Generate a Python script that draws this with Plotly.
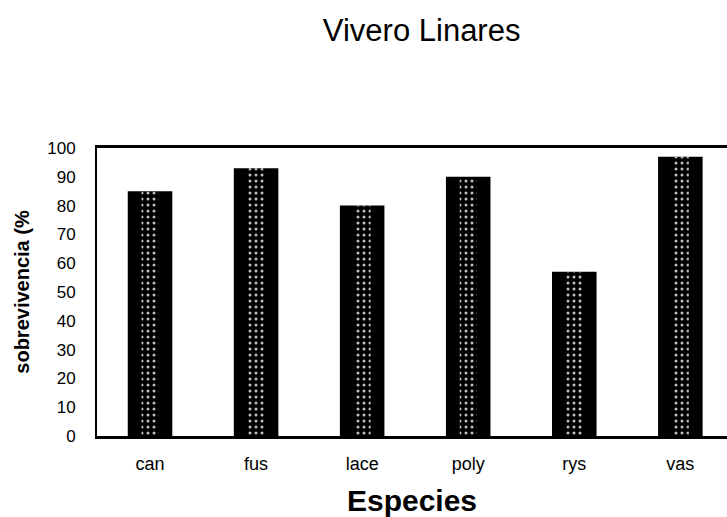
import plotly.graph_objects as go

categories = ["can", "fus", "lace", "poly", "rys", "vas"]
survival = [85, 93, 80, 90, 57, 97]
y_ticks = list(range(0, 101, 10))

FONT = "Liberation Sans, Arial, sans-serif"

fig = go.Figure()
fig.add_trace(go.Bar(
    x=categories, y=survival, width=0.42,
    marker=dict(color="black", line=dict(width=0)),
    hoverinfo="skip", showlegend=False,
))
fig.add_trace(go.Bar(
    x=categories, y=survival, width=0.16,
    marker=dict(color="rgba(0,0,0,0)", line=dict(width=0),
                pattern=dict(shape=".", fgcolor="white", bgcolor="rgba(0,0,0,0)",
                             size=6, solidity=0.2, fgopacity=0.75)),
    hoverinfo="skip", showlegend=False,
))

fig.update_layout(
    width=727, height=517,
    margin=dict(l=97, r=0, t=148, b=81, autoexpand=False),
    paper_bgcolor="white", plot_bgcolor="white",
    barmode="overlay",
    font=dict(family=FONT, color="black"),
    title=dict(text="Vivero Linares", x=0.58, xanchor="center", xref="container",
               y=1 - 30 / 517, yref="container", yanchor="middle",
               font=dict(size=31, family=FONT, color="black")),
)
fig.update_xaxes(
    range=[-0.5, 5.44], showgrid=False, zeroline=False, automargin=False,
    showline=True, linecolor="black", linewidth=3, mirror=True,
    ticks="", tickfont=dict(size=18, family=FONT), ticklabelstandoff=9,
    title=dict(text="<b>Especies</b>", font=dict(size=30, family=FONT), standoff=18),
)
fig.update_yaxes(
    range=[0, 100], tickvals=y_ticks, showgrid=False, zeroline=False, automargin=False,
    showline=True, linecolor="black", linewidth=2,
    ticks="", tickfont=dict(size=17, family=FONT), ticklabelstandoff=16,
    title=dict(text="<b>sobrevivencia (%</b>", font=dict(size=20, family=FONT), standoff=12),
)

fig.write_html("out.html", config={"displayModeBar": False},
               post_script="document.body.style.margin='0';document.body.style.padding='0';")
